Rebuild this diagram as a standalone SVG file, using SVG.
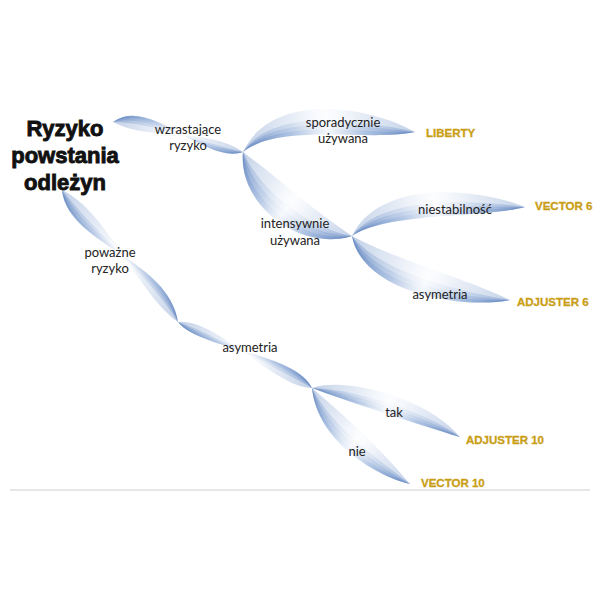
<svg xmlns="http://www.w3.org/2000/svg" width="600" height="600" viewBox="0 0 600 600">
<style>
.lbl{font-family:Lato,"Open Sans",sans-serif;font-size:13px;fill:#222;text-anchor:middle}
.out{font-family:"Liberation Sans",Arial,sans-serif;font-size:11.5px;font-weight:bold;fill:#C99E16;stroke:#C99E16;stroke-width:0.3}
.root{font-family:"Liberation Sans",Arial,sans-serif;font-size:22px;font-weight:bold;fill:#111;stroke:#111;stroke-width:0.9;text-anchor:middle}
.leaf path{stroke:none;fill-opacity:0.3}
.leaf path.e{fill:none;stroke-width:1.2;stroke-opacity:0.9}
</style>
<defs>
<linearGradient id="gW" gradientUnits="userSpaceOnUse" x1="113" y1="122" x2="243" y2="152"><stop offset="0" stop-color="#3563ae"/><stop offset="0.3" stop-color="#5f88c6" stop-opacity="0.5"/><stop offset="0.5" stop-color="#9bb4dd" stop-opacity="0.1"/><stop offset="0.7" stop-color="#5f88c6" stop-opacity="0.5"/><stop offset="1" stop-color="#3563ae"/></linearGradient>
<linearGradient id="gS" gradientUnits="userSpaceOnUse" x1="243" y1="152" x2="415" y2="132"><stop offset="0" stop-color="#3563ae"/><stop offset="0.3" stop-color="#5f88c6" stop-opacity="0.5"/><stop offset="0.5" stop-color="#9bb4dd" stop-opacity="0.1"/><stop offset="0.7" stop-color="#5f88c6" stop-opacity="0.5"/><stop offset="1" stop-color="#3563ae"/></linearGradient>
<linearGradient id="gI" gradientUnits="userSpaceOnUse" x1="243" y1="152" x2="352" y2="236"><stop offset="0" stop-color="#3563ae"/><stop offset="0.3" stop-color="#5f88c6" stop-opacity="0.5"/><stop offset="0.5" stop-color="#9bb4dd" stop-opacity="0.1"/><stop offset="0.7" stop-color="#5f88c6" stop-opacity="0.5"/><stop offset="1" stop-color="#3563ae"/></linearGradient>
<linearGradient id="gN" gradientUnits="userSpaceOnUse" x1="352" y1="236" x2="525" y2="207"><stop offset="0" stop-color="#3563ae"/><stop offset="0.3" stop-color="#5f88c6" stop-opacity="0.5"/><stop offset="0.5" stop-color="#9bb4dd" stop-opacity="0.1"/><stop offset="0.7" stop-color="#5f88c6" stop-opacity="0.5"/><stop offset="1" stop-color="#3563ae"/></linearGradient>
<linearGradient id="gA" gradientUnits="userSpaceOnUse" x1="352" y1="236" x2="510" y2="300"><stop offset="0" stop-color="#3563ae"/><stop offset="0.3" stop-color="#5f88c6" stop-opacity="0.5"/><stop offset="0.5" stop-color="#9bb4dd" stop-opacity="0.1"/><stop offset="0.7" stop-color="#5f88c6" stop-opacity="0.5"/><stop offset="1" stop-color="#3563ae"/></linearGradient>
<linearGradient id="gP" gradientUnits="userSpaceOnUse" x1="62" y1="190" x2="178" y2="322"><stop offset="0" stop-color="#3563ae"/><stop offset="0.3" stop-color="#5f88c6" stop-opacity="0.5"/><stop offset="0.5" stop-color="#9bb4dd" stop-opacity="0.1"/><stop offset="0.7" stop-color="#5f88c6" stop-opacity="0.5"/><stop offset="1" stop-color="#3563ae"/></linearGradient>
<linearGradient id="gL" gradientUnits="userSpaceOnUse" x1="178" y1="322" x2="312" y2="388"><stop offset="0" stop-color="#3563ae"/><stop offset="0.3" stop-color="#5f88c6" stop-opacity="0.5"/><stop offset="0.5" stop-color="#9bb4dd" stop-opacity="0.1"/><stop offset="0.7" stop-color="#5f88c6" stop-opacity="0.5"/><stop offset="1" stop-color="#3563ae"/></linearGradient>
<linearGradient id="gT" gradientUnits="userSpaceOnUse" x1="312" y1="388" x2="460" y2="437"><stop offset="0" stop-color="#3563ae"/><stop offset="0.3" stop-color="#5f88c6" stop-opacity="0.5"/><stop offset="0.5" stop-color="#9bb4dd" stop-opacity="0.1"/><stop offset="0.7" stop-color="#5f88c6" stop-opacity="0.5"/><stop offset="1" stop-color="#3563ae"/></linearGradient>
<linearGradient id="gV" gradientUnits="userSpaceOnUse" x1="312" y1="388" x2="410" y2="484"><stop offset="0" stop-color="#3563ae"/><stop offset="0.3" stop-color="#5f88c6" stop-opacity="0.5"/><stop offset="0.5" stop-color="#9bb4dd" stop-opacity="0.1"/><stop offset="0.7" stop-color="#5f88c6" stop-opacity="0.5"/><stop offset="1" stop-color="#3563ae"/></linearGradient>
</defs>
<rect width="600" height="600" fill="#fff"/>
<g id="connectors">
<g class="leaf" stroke="url(#gW)" fill="url(#gW)">
<path d="M113,122 C150,95 205,165 243,152 C205,158 150,104 113,122 Z"/>
<path d="M113,122 C150,95 205,165 243,152 C205,150 150,113 113,122 Z"/>
<path d="M113,122 C150,95 205,165 243,152 C205,143 150,122 113,122 Z"/>
<path d="M113,122 C150,95 205,165 243,152 C205,126 150,142 113,122 Z"/>
<path class="e" d="M113,122 C150,95 205,165 243,152"/>
</g>
<g class="leaf" stroke="url(#gS)" fill="url(#gS)">
<path d="M243,152 C280,122 370,142 415,132 C370,135 278,116 243,152 Z"/>
<path d="M243,152 C280,122 370,142 415,132 C370,128 277,110 243,152 Z"/>
<path d="M243,152 C280,122 370,142 415,132 C370,122 275,104 243,152 Z"/>
<path d="M243,152 C280,122 370,142 415,132 C370,106 272,90 243,152 Z"/>
<path class="e" d="M243,152 C280,122 370,142 415,132"/>
</g>
<g class="leaf" stroke="url(#gI)" fill="url(#gI)">
<path d="M243,152 C238,205 300,252 352,236 C302,244 245,200 243,152 Z"/>
<path d="M243,152 C238,205 300,252 352,236 C305,236 253,195 243,152 Z"/>
<path d="M243,152 C238,205 300,252 352,236 C307,228 260,190 243,152 Z"/>
<path d="M243,152 C238,205 300,252 352,236 C313,210 278,178 243,152 Z"/>
<path class="e" d="M243,152 C238,205 300,252 352,236"/>
</g>
<g class="leaf" stroke="url(#gN)" fill="url(#gN)">
<path d="M352,236 C388,212 485,218 525,207 C484,212 386,206 352,236 Z"/>
<path d="M352,236 C388,212 485,218 525,207 C482,207 385,199 352,236 Z"/>
<path d="M352,236 C388,212 485,218 525,207 C481,201 383,193 352,236 Z"/>
<path d="M352,236 C388,212 485,218 525,207 C478,188 380,178 352,236 Z"/>
<path class="e" d="M352,236 C388,212 485,218 525,207"/>
</g>
<g class="leaf" stroke="url(#gA)" fill="url(#gA)">
<path d="M352,236 C362,292 462,310 510,300 C464,304 369,286 352,236 Z"/>
<path d="M352,236 C362,292 462,310 510,300 C465,299 375,280 352,236 Z"/>
<path d="M352,236 C362,292 462,310 510,300 C467,293 382,274 352,236 Z"/>
<path d="M352,236 C362,292 462,310 510,300 C470,280 397,260 352,236 Z"/>
<path class="e" d="M352,236 C362,292 462,310 510,300"/>
</g>
<g class="leaf" stroke="url(#gP)" fill="url(#gP)">
<path d="M62,190 C68,245 168,258 178,322 C162,265 75,239 62,190 Z"/>
<path d="M62,190 C68,245 168,258 178,322 C157,272 83,233 62,190 Z"/>
<path d="M62,190 C68,245 168,258 178,322 C151,278 90,227 62,190 Z"/>
<path d="M62,190 C68,245 168,258 178,322 C138,294 108,212 62,190 Z"/>
<path class="e" d="M62,190 C68,245 168,258 178,322"/>
</g>
<g class="leaf" stroke="url(#gL)" fill="url(#gL)">
<path d="M178,322 C200,350 295,352 312,388 C291,359 203,344 178,322 Z"/>
<path d="M178,322 C200,350 295,352 312,388 C287,365 206,338 178,322 Z"/>
<path d="M178,322 C200,350 295,352 312,388 C283,372 209,332 178,322 Z"/>
<path d="M178,322 C200,350 295,352 312,388 C273,387 217,318 178,322 Z"/>
<path class="e" d="M178,322 C200,350 295,352 312,388"/>
</g>
<g class="leaf" stroke="url(#gT)" fill="url(#gT)">
<path d="M312,388 C350,402 420,425 460,437 C422,420 349,397 312,388 Z"/>
<path d="M312,388 C350,402 420,425 460,437 C423,415 348,392 312,388 Z"/>
<path d="M312,388 C350,402 420,425 460,437 C425,410 347,388 312,388 Z"/>
<path d="M312,388 C350,402 420,425 460,437 C428,398 345,376 312,388 Z"/>
<path class="e" d="M312,388 C350,402 420,425 460,437"/>
</g>
<g class="leaf" stroke="url(#gV)" fill="url(#gV)">
<path d="M312,388 C318,445 382,478 410,484 C381,472 323,440 312,388 Z"/>
<path d="M312,388 C318,445 382,478 410,484 C380,466 329,435 312,388 Z"/>
<path d="M312,388 C318,445 382,478 410,484 C380,460 334,430 312,388 Z"/>
<path d="M312,388 C318,445 382,478 410,484 C378,446 347,418 312,388 Z"/>
<path class="e" d="M312,388 C318,445 382,478 410,484"/>
</g>
</g>
<line x1="10" y1="490" x2="590" y2="490" stroke="#cfcfcf" stroke-width="1.2"/>
<g id="n-root"><text class="root"><tspan x="65" y="136">Ryzyko</tspan><tspan x="65" y="163">powstania</tspan><tspan x="65" y="190">odleżyn</tspan></text></g>
<g id="n-wzr"><text class="lbl"><tspan x="188" y="134">wzrastające</tspan><tspan x="188" y="150">ryzyko</tspan></text></g>
<g id="n-spor"><text class="lbl"><tspan x="343" y="127">sporadycznie</tspan><tspan x="343" y="143">używana</tspan></text></g>
<g id="n-int"><text class="lbl"><tspan x="295" y="228">intensywnie</tspan><tspan x="295" y="245">używana</tspan></text></g>
<g id="n-nie"><text class="lbl" x="455" y="214">niestabilność</text></g>
<g id="n-asy1"><text class="lbl" x="440" y="299">asymetria</text></g>
<g id="n-pow"><text class="lbl"><tspan x="110" y="257">poważne</tspan><tspan x="110" y="273">ryzyko</tspan></text></g>
<g id="n-asy2"><text class="lbl" x="250" y="352">asymetria</text></g>
<g id="n-tak"><text class="lbl" x="394" y="417">tak</text></g>
<g id="n-nie2"><text class="lbl" x="357" y="456">nie</text></g>
<g id="n-liberty"><text class="out" x="426" y="137">LIBERTY</text></g>
<g id="n-v6"><text class="out" x="535" y="210">VECTOR 6</text></g>
<g id="n-a6"><text class="out" x="517" y="306">ADJUSTER 6</text></g>
<g id="n-a10"><text class="out" x="466" y="444">ADJUSTER 10</text></g>
<g id="n-v10"><text class="out" x="421" y="487">VECTOR 10</text></g>
</svg>
